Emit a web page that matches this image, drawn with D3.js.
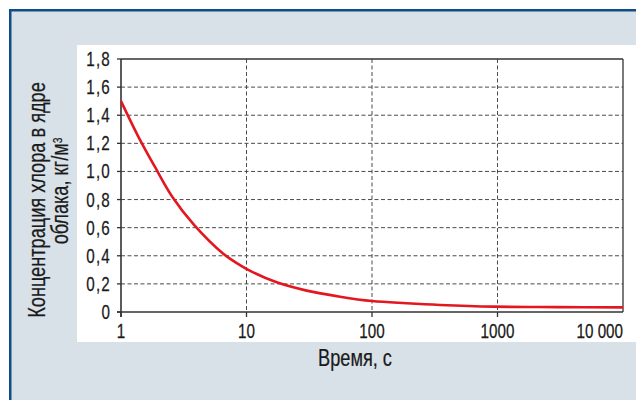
<!DOCTYPE html>
<html><head><meta charset="utf-8">
<script src="https://cdn.jsdelivr.net/npm/d3@7"></script>
<style>
html,body{margin:0;padding:0;background:#fff;}
svg{display:block;}
text{font-family:"Liberation Sans",Arial,sans-serif;fill:#1a1a1a;stroke:#1a1a1a;stroke-width:0.25px;}
</style></head><body>
<svg id="c" width="636" height="400"></svg>
<script>
const timeValues = [1, 1.37, 1.87, 2.56, 3.82, 6.53, 8.87, 11.3, 17.4, 30.2, 55.6, 100, 189, 348, 930, 3000, 10000];
const concValues = [1.5, 1.25, 1.03, 0.82, 0.62, 0.415, 0.334, 0.282, 0.211, 0.152, 0.109, 0.078, 0.062, 0.05, 0.038, 0.035, 0.033];
const xTicks = [1, 10, 100, 1000, 10000];
const xTickLabels = ["1", "10", "100", "1000", "10 000"];
const yTicks = [0, 0.2, 0.4, 0.6, 0.8, 1.0, 1.2, 1.4, 1.6, 1.8];
const yTickLabels = ["0", "0,2", "0,4", "0,6", "0,8", "1,0", "1,2", "1,4", "1,6", "1,8"];
const xTitle = "Время, с";
const yTitle1 = "Концентрация хлора в ядре";
const yTitle2 = "облака, кг/м";

const SX = 0.78;
const svg = d3.select("#c");
svg.append("rect").attr("x",9).attr("y",9).attr("width",627).attr("height",391).attr("fill","#d9e1e8");
svg.append("rect").attr("x",9).attr("y",9).attr("width",627).attr("height",2.5).attr("fill","#0f4c89");
svg.append("rect").attr("x",9).attr("y",9).attr("width",2.5).attr("height",391).attr("fill","#0f4c89");
svg.append("rect").attr("x",77).attr("y",45).attr("width",559).attr("height",297).attr("fill","#fff");

const L=121, R=623, T=59, B=312;
const x = d3.scaleLog().domain([1,10000]).range([L,R]);
const y = d3.scaleLinear().domain([0,1.8]).range([B,T]);

const g = svg.append("g");
g.selectAll(".hg").data(yTicks.filter(d=>d>0 && d<1.8)).enter().append("line")
 .attr("x1",L).attr("x2",R).attr("y1",d=>y(d)).attr("y2",d=>y(d))
 .attr("stroke","#4a4a4a").attr("stroke-width",1).attr("stroke-dasharray","4,2.5");
g.selectAll(".vg").data(xTicks.filter(d=>d>1 && d<10000)).enter().append("line")
 .attr("x1",d=>x(d)).attr("x2",d=>x(d)).attr("y1",T).attr("y2",B)
 .attr("stroke","#4a4a4a").attr("stroke-width",1).attr("stroke-dasharray","4,2.5");
g.append("line").attr("x1",L).attr("x2",R).attr("y1",T).attr("y2",T).attr("stroke","#333").attr("stroke-width",1.3);
g.append("line").attr("x1",R).attr("x2",R).attr("y1",T).attr("y2",B).attr("stroke","#333").attr("stroke-width",1.3);

g.selectAll(".yt").data(yTicks).enter().append("line")
 .attr("x1",L-4).attr("x2",L).attr("y1",d=>y(d)).attr("y2",d=>y(d)).attr("stroke","#333").attr("stroke-width",1.3);
g.selectAll(".yl").data(yTicks).enter().append("text")
 .attr("transform",d=>`translate(${L-10},${y(d)}) scale(${SX},1)`)
 .attr("dy","0.36em").attr("text-anchor","end").attr("letter-spacing",1.5)
 .attr("font-size",19.5).text((d,i)=>yTickLabels[i]);
g.selectAll(".xt").data(xTicks.slice(0,4)).enter().append("line")
 .attr("x1",d=>x(d)).attr("x2",d=>x(d)).attr("y1",B).attr("y2",B+5).attr("stroke","#333").attr("stroke-width",1.3);
g.selectAll(".xl").data(xTicks).enter().append("text")
 .attr("transform",d=>`translate(${x(d)},${B+26}) scale(${SX},1)`)
 .attr("text-anchor",(d,i)=>i===xTicks.length-1?"end":"middle")
 .attr("font-size",19.5).text((d,i)=>xTickLabels[i]);

g.append("line").attr("x1",L).attr("x2",L).attr("y1",T).attr("y2",B+5).attr("stroke","#333").attr("stroke-width",1.6);
g.append("line").attr("x1",L-4).attr("x2",R).attr("y1",B).attr("y2",B).attr("stroke","#333").attr("stroke-width",1.6);

const data = timeValues.map((t,i)=>({t, v:concValues[i]}));
g.append("path").datum(data)
 .attr("d", d3.line().x(d=>x(d.t)).y(d=>y(d.v)).curve(d3.curveCatmullRom))
 .attr("fill","none").attr("stroke","#e3171f").attr("stroke-width",2.6);

svg.append("text").attr("transform",`translate(355,366) scale(0.79,1)`)
 .attr("text-anchor","middle").attr("font-size",23).text(xTitle);
svg.append("text").attr("transform",`translate(45,200) rotate(-90) scale(0.79,1)`)
 .attr("text-anchor","middle").attr("font-size",23).text(yTitle1);
const t2 = svg.append("text").attr("transform",`translate(68,191) rotate(-90) scale(0.79,1)`)
 .attr("text-anchor","middle").attr("font-size",23);
t2.append("tspan").text(yTitle2);
t2.append("tspan").attr("dy","-0.5em").attr("font-size",13).text("3");
</script>
</body></html>
